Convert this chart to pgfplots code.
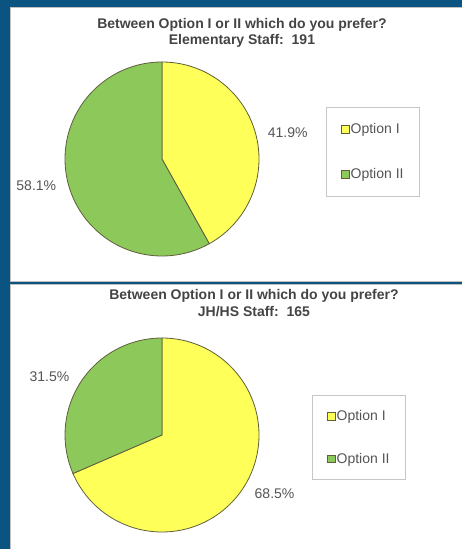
\documentclass[border=0pt]{standalone}
\usepackage{pgfplots}
\pgfplotsset{compat=1.18}
\usepackage{pgfplotstable}
\usepackage{fontspec}
\setmainfont{Liberation Sans}

\definecolor{bgblue}{RGB}{11,83,128}
\definecolor{pieyellow}{RGB}{255,255,90}
\definecolor{piegreen}{RGB}{140,200,90}
\definecolor{pieedge}{RGB}{95,95,60}
\definecolor{titlegray}{RGB}{68,68,68}
\definecolor{labelgray}{RGB}{85,85,85}

% Elementary staff (191)
\pgfplotstableread{
label value
{Option I} 41.9
{Option II} 58.1
}\elemdata
% JH/HS staff (165)
\pgfplotstableread{
label value
{Option I} 68.5
{Option II} 31.5
}\jhhsdata

\tikzset{slice/.style={draw=pieedge, line width=0.8bp}}
\pgfplotsset{
  piechart/.style={
    hide axis, scale only axis, width=#1, height=#1,
    xmin=-1, xmax=1, ymin=-1, ymax=1, anchor=origin, clip=false,
    title style={font=\fontsize{14bp}{16.5bp}\selectfont\bfseries, text=titlegray, align=center, anchor=center},
    legend cell align=left,
    legend image code/.code={\draw[##1] (0bp,-3.75bp) rectangle (7.5bp,3.75bp);},
    legend style={draw=gray!45, line width=0.8bp, fill=white, anchor=north west,
      font=\fontsize{14bp}{16bp}\selectfont, text=labelgray,
      inner xsep=15bp, nodes={inner sep=1bp}},
  },
}

\begin{document}
\begin{tikzpicture}
\fill[bgblue] (0,0) rectangle (462bp,-549bp);
\filldraw[fill=white, draw=gray!50, line width=0.8bp] (10bp,-7bp) rectangle (463bp,-281bp);
\filldraw[fill=white, draw=gray!50, line width=0.8bp] (10bp,-284bp) rectangle (463bp,-550bp);

% top pie angles
\pgfplotstablegetelem{0}{value}\of\elemdata \let\tA\pgfplotsretval
\pgfplotstablegetelem{1}{value}\of\elemdata \let\tB\pgfplotsretval
\pgfmathsetmacro\tEnd{90-3.6*\tA}
\pgfmathsetmacro\tMidA{90-1.8*\tA}
\pgfmathsetmacro\tMidB{\tEnd-1.8*\tB}

\begin{axis}[piechart=194bp, at={(162bp,-159bp)},
  title={Between Option I or II which do you prefer?\\Elementary Staff:\ \ 191},
  title style={at={(0.912,1.12)}},
  legend style={at={(1.345,0.766)}, inner ysep=15bp, row sep=31bp}]
\filldraw[slice, fill=pieyellow] (axis cs:0,0) -- (axis cs:0,1) arc[start angle=90, end angle=\tEnd, radius=97bp] -- cycle;
\filldraw[slice, fill=piegreen] (axis cs:0,0) -- (axis cs:0,1) arc[start angle=90, end angle=\tEnd+360, radius=97bp] -- cycle;
\node[anchor=west, text=labelgray, font=\fontsize{14bp}{16bp}\selectfont] at (axis cs:{1.09*cos(\tMidA)},{1.09*sin(\tMidA)}) {\tA\%};
\node[anchor=east, text=labelgray, font=\fontsize{14bp}{16bp}\selectfont] at (axis cs:{1.09*cos(\tMidB)},{1.09*sin(\tMidB)}) {\tB\%};
\addlegendimage{fill=pieyellow, draw=pieedge, line width=0.8bp}
\addlegendentry{Option I}
\addlegendimage{fill=piegreen, draw=pieedge, line width=0.8bp}
\addlegendentry{Option II}
\end{axis}

% bottom pie angles
\pgfplotstablegetelem{0}{value}\of\jhhsdata \let\bA\pgfplotsretval
\pgfplotstablegetelem{1}{value}\of\jhhsdata \let\bB\pgfplotsretval
\pgfmathsetmacro\bEnd{90-3.6*\bA}
\pgfmathsetmacro\bMidA{90-1.8*\bA}
\pgfmathsetmacro\bMidB{\bEnd-1.8*\bB}

\begin{axis}[piechart=194bp, at={(162bp,-435bp)},
  title={Between Option I or II which do you prefer?\\JH/HS Staff:\ \ 165},
  title style={at={(0.974,1.15)}},
  legend style={at={(1.273,0.706)}, inner ysep=14bp, row sep=29bp}]
\filldraw[slice, fill=pieyellow] (axis cs:0,0) -- (axis cs:0,1) arc[start angle=90, end angle=\bEnd, radius=97bp] -- cycle;
\filldraw[slice, fill=piegreen] (axis cs:0,0) -- (axis cs:0,1) arc[start angle=90, end angle=\bEnd+360, radius=97bp] -- cycle;
\node[anchor=west, text=labelgray, font=\fontsize{14bp}{16bp}\selectfont] at (axis cs:{1.1*cos(\bMidA)},{1.1*sin(\bMidA)}) {\bA\%};
\node[anchor=east, text=labelgray, font=\fontsize{14bp}{16bp}\selectfont] at (axis cs:{1.1*cos(\bMidB)},{1.1*sin(\bMidB)}) {\bB\%};
\addlegendimage{fill=pieyellow, draw=pieedge, line width=0.8bp}
\addlegendentry{Option I}
\addlegendimage{fill=piegreen, draw=pieedge, line width=0.8bp}
\addlegendentry{Option II}
\end{axis}

\pgfresetboundingbox
\path[use as bounding box] (0,0) rectangle (462bp,-549bp);
\end{tikzpicture}
\end{document}
